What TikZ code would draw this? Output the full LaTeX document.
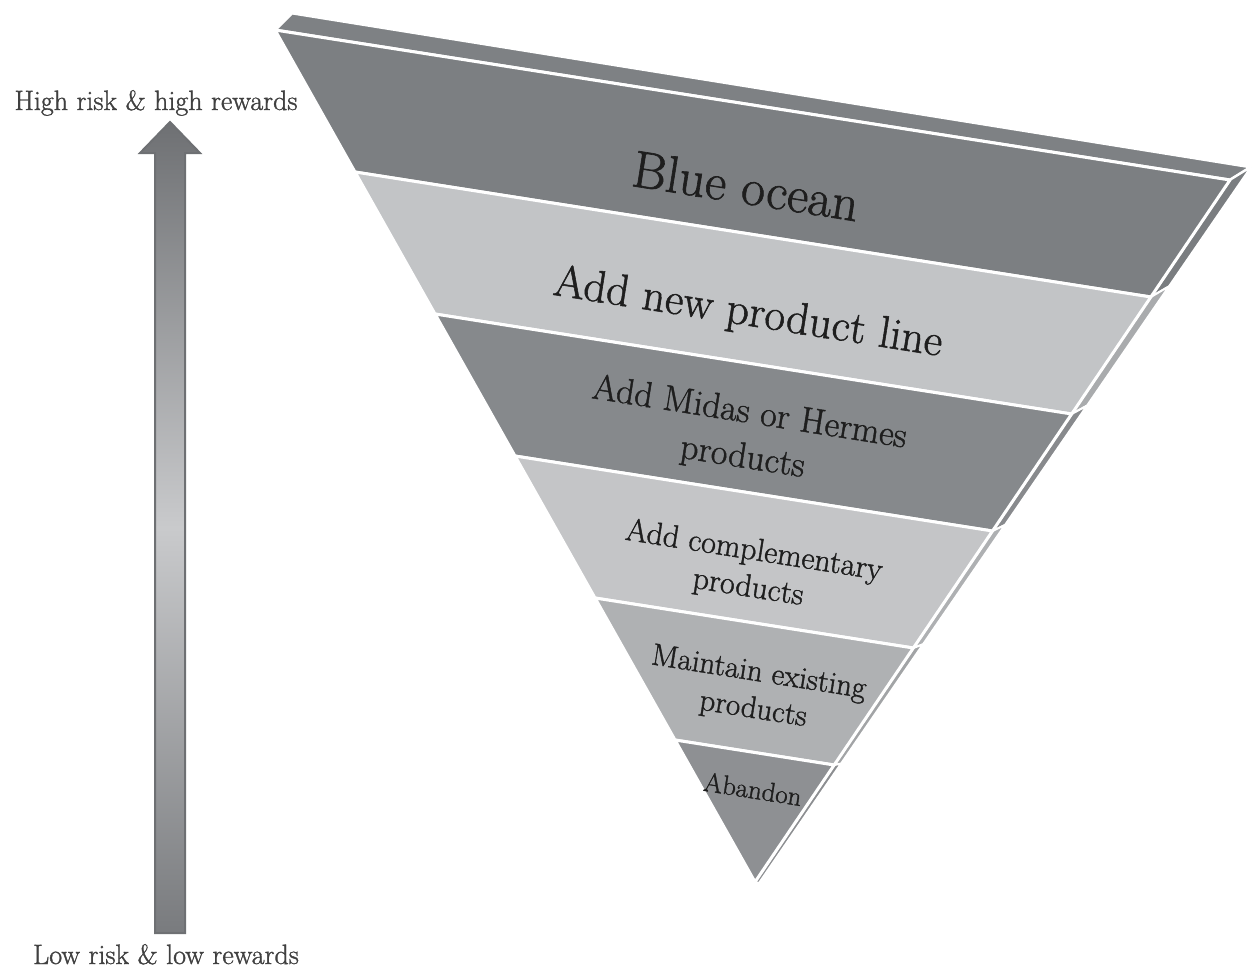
\documentclass[tikz,border=0pt]{standalone}
\usepackage{fontspec}
\usetikzlibrary{calc}
\newfontfamily\heavy{lmroman17-regular}[Extension=.otf,FakeBold=1.2]
\definecolor{topc}{HTML}{7E8184}
\definecolor{bandA}{HTML}{7C7F82}
\definecolor{bandB}{HTML}{C2C4C6}
\definecolor{bandC}{HTML}{86898C}
\definecolor{bandD}{HTML}{C4C5C7}
\definecolor{bandE}{HTML}{AFB1B3}
\definecolor{bandF}{HTML}{8E9093}
\definecolor{sideA}{HTML}{7A7D80}
\definecolor{sideB}{HTML}{A9ABAD}
\definecolor{sideC}{HTML}{888A8D}
\definecolor{sideD}{HTML}{AEB0B2}
\definecolor{sideE}{HTML}{A2A4A6}
\definecolor{sideF}{HTML}{8C8E91}
\definecolor{txt}{HTML}{1E1E1E}
\definecolor{arrdark}{HTML}{6E7073}
\definecolor{arrmid}{HTML}{C9CACC}
\definecolor{arrbot}{HTML}{797B7E}
\begin{document}
\begin{tikzpicture}[x=1pt,y=-1pt,
  band/.style={draw=white,line width=3pt,line join=round},
  sidestrip/.style={draw=white,line width=2pt,line join=round},
  lbl/.style={text=txt,inner sep=0pt,rotate=-9,align=center},
  side label/.style={text=txt!85,inner sep=0pt,anchor=base,font=\heavy\fontsize{28}{28}\selectfont},
]
\useasboundingbox (0,0) rectangle (1253,970);
\fill[white] (0,0) rectangle (1253,970);
% geometry of the inverted pyramid
\coordinate (TL) at (275,30);
\coordinate (TR) at (1230,180);
\coordinate (T) at (755,882);
\coordinate (TLu) at (292,13);
\foreach \k in {0,...,6} {
  \coordinate (L\k) at ($(TL)!\k/6!(T)$);
  \coordinate (R\k) at ($(TR)!\k/6!(T)$);
  \coordinate (S\k) at ($(R\k)+({21-17*\k/6},{-13+14*\k/6})$);
}
% top face
\filldraw[band,fill=topc] (TL) -- (TLu) -- (S0) -- (TR) -- cycle;
% right side strips
\foreach \k/\c in {0/sideA,1/sideB,2/sideC,3/sideD,4/sideE,5/sideF} {
  \pgfmathtruncatemacro\n{\k+1}
  \filldraw[sidestrip,fill=\c] (R\k) -- (S\k) -- (S\n) -- (R\n) -- cycle;
}
% front bands
\foreach \k/\c in {0/bandA,1/bandB,2/bandC,3/bandD,4/bandE} {
  \pgfmathtruncatemacro\n{\k+1}
  \filldraw[band,fill=\c] (L\k) -- (R\k) -- (R\n) -- (L\n) -- cycle;
}
\filldraw[band,fill=bandF] (L5) -- (R5) -- (T) -- cycle;
% band labels
\node[lbl,font=\heavy\fontsize{52}{52}\selectfont] (t1) at (746,186) {Blue ocean};
\node[lbl,font=\heavy\fontsize{45}{45}\selectfont] (t2) at (748,314) {Add new product line};
\node[lbl,font=\heavy\fontsize{36}{45}\selectfont] (t3) at (746,436) {Add Midas or Hermes\\products};
\node[lbl,font=\heavy\fontsize{32}{37}\selectfont] (t4) at (751,570) {Add complementary\\products};
\node[lbl,font=\heavy\fontsize{31}{37}\selectfont] (t5) at (756,692) {Maintain existing\\products};
\node[lbl,font=\heavy\fontsize{27}{27}\selectfont] (t6) at (753,789) {Abandon};
% risk arrow
\coordinate (Abot) at (170,933);
\coordinate (Atip) at (170,122);
\shade[top color=arrdark,bottom color=arrbot,middle color=arrmid]
  ($(Abot)+(-15,0)$) -- ($(Atip)+(-15,31)$) -- ($(Atip)+(-30,31)$) -- (Atip)
  -- ($(Atip)+(30,31)$) -- ($(Atip)+(15,31)$) -- ($(Abot)+(15,0)$) -- cycle;
\draw[arrdark,line width=2pt,line join=miter]
  ($(Abot)+(-15,0)$) -- ($(Atip)+(-15,31)$) -- ($(Atip)+(-30,31)$) -- (Atip)
  -- ($(Atip)+(30,31)$) -- ($(Atip)+(15,31)$) -- ($(Abot)+(15,0)$) -- cycle;
\node[side label] (hi) at (156,110) {High risk \& high rewards};
\node[side label] (lo) at (166,964) {Low risk \& low rewards};
\end{tikzpicture}
\end{document}
